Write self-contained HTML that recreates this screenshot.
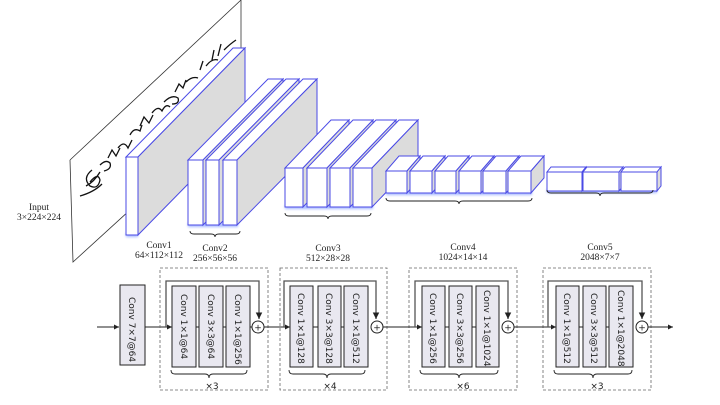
<!DOCTYPE html>
<html><head><meta charset="utf-8"><style>
html,body{margin:0;padding:0;background:#fff;}
svg{display:block;}
.lbl{font-family:"Liberation Serif",serif;font-size:9.5px;fill:#222;text-anchor:middle;}
.bt{font-family:"DejaVu Sans",sans-serif;font-size:9px;fill:#222;}
.f{fill:#fff;stroke:#4a4ae6;stroke-width:1;}
.s{fill:#dcdcdc;stroke:#4a4ae6;stroke-width:1;}
.cb{fill:#e9e8f0;stroke:#222;stroke-width:1;}
.dash{fill:none;stroke:#666;stroke-width:0.8;stroke-dasharray:3,2;}
.br{fill:none;stroke:#222;stroke-width:0.9;}
</style></head><body>
<svg width="720" height="405" viewBox="0 0 720 405" xmlns="http://www.w3.org/2000/svg">
<defs>
<marker id="ar" markerWidth="6" markerHeight="6" refX="5" refY="3" orient="auto"><path d="M0,0.5 L5,3 L0,5.5z" fill="#222"/></marker>
<filter id="gl"><feGaussianBlur stdDeviation="1.2"/></filter>
</defs>
<!-- input plane -->
<polygon points="70,160 241,0 241,60 73,262" fill="#fff" stroke="none"/>
<path d="M70,160 L241,0 L241,60 M70,160 L73,262 L130,210" fill="none" stroke="#333" stroke-width="0.8"/>
<path d="M92,170 q-10,8 -2,16 q8,4 10,-6 q-2,-8 -10,2 M86,186 q8,-4 14,-14 M80,196 q14,-4 22,-12 M100,165 q6,-6 10,-2 q2,6 -6,8 M108,158 l4,-8 l4,6 l4,-8 M118,148 q6,-8 10,0 l4,-8 M130,135 q4,-8 10,-4 l2,-6 M140,126 l4,-9 l5,6 l4,-8 M152,113 q6,-8 10,-2 q4,-8 8,-4 M164,102 q8,-8 14,-4 q2,6 -6,6 M175,92 l4,-8 l4,4 l3,-8 M186,82 q6,-6 12,-4 M200,70 l3,-9 M206,66 q6,-8 12,-6 M212,60 l2,-10 M218,56 l3,-12 M224,50 q6,-6 12,-10" fill="none" stroke="#111" stroke-width="1.3"/>
<text class="lbl" x="39" y="210">Input</text>
<text class="lbl" x="39" y="220">3×224×224</text>
<!-- glows -->
<g filter="url(#gl)" opacity="0.6"><rect x="126" y="233" width="12" height="4" fill="#6a8aff"/><rect x="188" y="223" width="50" height="4" fill="#6a8aff"/><rect x="285" y="205" width="88" height="4" fill="#6a8aff"/><rect x="386" y="191" width="146" height="4" fill="#6a8aff"/><rect x="547" y="189" width="110" height="4" fill="#6a8aff"/></g>
<!-- conv1 -->
<polygon class="f" points="126,157 138,157 245,48 233,48"/>
<polygon class="s" points="138,157 245,48 245,126 138,235"/>
<rect class="f" x="126" y="157" width="12" height="78"/>
<!-- conv2 -->
<polygon class="f" points="188,160 203,160 283,79 268,79"/><polygon class="s" points="203,160 283,79 283,144 203,225"/><rect class="f" x="188" y="160" width="15" height="65"/>
<polygon class="f" points="206,160 219,160 299,79 286,79"/><polygon class="s" points="219,160 299,79 299,144 219,225"/><rect class="f" x="206" y="160" width="13" height="65"/>
<polygon class="f" points="223,160 237,160 317,79 303,79"/><polygon class="s" points="237,160 317,79 317,144 237,225"/><rect class="f" x="223" y="160" width="14" height="65"/>
<!-- conv3 -->
<polygon class="f" points="285,168 303,168 349,120 331,120"/><polygon class="s" points="303,168 349,120 349,159 303,207"/><rect class="f" x="285" y="168" width="18" height="39"/>
<polygon class="f" points="307,168 327,168 373,120 353,120"/><polygon class="s" points="327,168 373,120 373,159 327,207"/><rect class="f" x="307" y="168" width="20" height="39"/>
<polygon class="f" points="330,168 350,168 396,120 376,120"/><polygon class="s" points="350,168 396,120 396,159 350,207"/><rect class="f" x="330" y="168" width="20" height="39"/>
<polygon class="f" points="353,168 372,168 418,120 399,120"/><polygon class="s" points="372,168 418,120 418,159 372,207"/><rect class="f" x="353" y="168" width="19" height="39"/>
<!-- conv4 -->
<polygon class="f" points="386,171 407,171 420,156 399,156"/><polygon class="s" points="407,171 420,156 420,178 407,193"/><rect class="f" x="386" y="171" width="21" height="22"/>
<polygon class="f" points="410,171 432,171 445,156 423,156"/><polygon class="s" points="432,171 445,156 445,178 432,193"/><rect class="f" x="410" y="171" width="22" height="22"/>
<polygon class="f" points="435,171 456,171 469,156 448,156"/><polygon class="s" points="456,171 469,156 469,178 456,193"/><rect class="f" x="435" y="171" width="21" height="22"/>
<polygon class="f" points="459,171 481,171 494,156 472,156"/><polygon class="s" points="481,171 494,156 494,178 481,193"/><rect class="f" x="459" y="171" width="22" height="22"/>
<polygon class="f" points="483,171 506,171 519,156 496,156"/><polygon class="s" points="506,171 519,156 519,178 506,193"/><rect class="f" x="483" y="171" width="23" height="22"/>
<polygon class="f" points="508,171 531,171 544,156 521,156"/><polygon class="s" points="531,171 544,156 544,178 531,193"/><rect class="f" x="508" y="171" width="23" height="22"/>
<!-- conv5 -->
<polygon class="f" points="547,172 582,172 586,167 551,167"/><polygon class="s" points="582,172 586,167 586,186 582,191"/><rect class="f" x="547" y="172" width="35" height="19"/>
<polygon class="f" points="583,172 619,172 623,167 587,167"/><polygon class="s" points="619,172 623,167 623,186 619,191"/><rect class="f" x="583" y="172" width="36" height="19"/>
<polygon class="f" points="621,172 657,172 661,167 625,167"/><polygon class="s" points="657,172 661,167 661,186 657,191"/><rect class="f" x="621" y="172" width="36" height="19"/>
<!-- braces -->
<path class="br" d="M190,231 q0,3 4,3 h17 q4,0 4,3 q0,-3 4,-3 h17 q4,0 4,-3"/>
<path class="br" d="M285,213 q0,3 4,3 h35 q4,0 4,3 q0,-3 4,-3 h35 q4,0 4,-3"/>
<path class="br" d="M386,198 q0,3 4,3 h65 q4,0 4,3 q0,-3 4,-3 h65 q4,0 4,-3"/>
<path class="br" d="M547,190 q0,3 4,3 h45 q4,0 4,3 q0,-3 4,-3 h45 q4,0 4,-3"/>
<!-- labels -->
<text class="lbl" x="159" y="248">Conv1</text><text class="lbl" x="159" y="258">64×112×112</text>
<text class="lbl" x="215" y="251">Conv2</text><text class="lbl" x="215" y="261">256×56×56</text>
<text class="lbl" x="328" y="251">Conv3</text><text class="lbl" x="328" y="261">512×28×28</text>
<text class="lbl" x="463" y="250">Conv4</text><text class="lbl" x="463" y="260">1024×14×14</text>
<text class="lbl" x="600" y="250">Conv5</text><text class="lbl" x="600" y="260">2048×7×7</text>
<!-- bottom pipeline -->
<line x1="97" y1="327" x2="119" y2="327" stroke="#222" marker-end="url(#ar)"/>
<rect class="cb" x="120" y="285" width="25" height="80"/>
<text class="bt" transform="translate(129,297) rotate(90)">Conv 7×7@64</text>
<line x1="145" y1="327" x2="172" y2="327" stroke="#222" marker-end="url(#ar)"/>
<rect class="dash" x="160" y="268" width="108" height="122"/>
<rect class="dash" x="280" y="268" width="107" height="122"/>
<rect class="dash" x="409" y="268" width="108" height="122"/>
<rect class="dash" x="543" y="268" width="108" height="122"/>
<!-- stage 1 -->
<path d="M166,327 V281 H259 V319" fill="none" stroke="#555" stroke-width="1.3" marker-end="url(#ar)"/>
<rect class="cb" x="172" y="286" width="24" height="81"/><rect class="cb" x="199" y="286" width="24" height="81"/><rect class="cb" x="226" y="286" width="24" height="81"/>
<line x1="196" y1="327" x2="199" y2="327" stroke="#222"/><line x1="223" y1="327" x2="226" y2="327" stroke="#222"/><line x1="250" y1="327" x2="252" y2="327" stroke="#222"/>
<text class="bt" transform="translate(181,294) rotate(90)">Conv 1×1@64</text>
<text class="bt" transform="translate(208,294) rotate(90)">Conv 3×3@64</text>
<text class="bt" transform="translate(235,294) rotate(90)">Conv 1×1@256</text>
<circle cx="258" cy="327" r="6" fill="#fff" stroke="#222"/><text class="bt" x="258" y="330.5" text-anchor="middle">+</text>
<path class="br" d="M171,370 q0,4 4,4 h30 q4,0 4,4 q0,-4 4,-4 h30 q4,0 4,-4"/><text class="bt" x="212" y="389" text-anchor="middle">×3</text>
<line x1="264" y1="327" x2="290" y2="327" stroke="#222" marker-end="url(#ar)"/>
<!-- stage 2 -->
<path d="M284,327 V281 H376 V319" fill="none" stroke="#555" stroke-width="1.3" marker-end="url(#ar)"/>
<rect class="cb" x="290" y="286" width="23" height="81"/><rect class="cb" x="318" y="286" width="23" height="81"/><rect class="cb" x="344" y="286" width="24" height="81"/>
<line x1="313" y1="327" x2="318" y2="327" stroke="#222"/><line x1="341" y1="327" x2="344" y2="327" stroke="#222"/>
<text class="bt" transform="translate(298,293) rotate(90)">Conv 1×1@128</text>
<text class="bt" transform="translate(326,293) rotate(90)">Conv 3×3@128</text>
<text class="bt" transform="translate(353,293) rotate(90)">Conv 1×1@512</text>
<circle cx="377" cy="327" r="6" fill="#fff" stroke="#222"/><text class="bt" x="377" y="330.5" text-anchor="middle">+</text>
<path class="br" d="M289,370 q0,4 4,4 h30 q4,0 4,4 q0,-4 4,-4 h30 q4,0 4,-4"/><text class="bt" x="330" y="389" text-anchor="middle">×4</text>
<line x1="383" y1="327" x2="422" y2="327" stroke="#222" marker-end="url(#ar)"/>
<!-- stage 3 -->
<path d="M415,327 V281 H508 V319" fill="none" stroke="#555" stroke-width="1.3" marker-end="url(#ar)"/>
<rect class="cb" x="422" y="286" width="23" height="81"/><rect class="cb" x="449" y="286" width="23" height="81"/><rect class="cb" x="476" y="286" width="23" height="81"/>
<line x1="445" y1="327" x2="449" y2="327" stroke="#222"/><line x1="472" y1="327" x2="476" y2="327" stroke="#222"/>
<text class="bt" transform="translate(430,293) rotate(90)">Conv 1×1@256</text>
<text class="bt" transform="translate(457,293) rotate(90)">Conv 3×3@256</text>
<text class="bt" transform="translate(484,290) rotate(90)">Conv 1×1@1024</text>
<circle cx="508" cy="327" r="6" fill="#fff" stroke="#222"/><text class="bt" x="508" y="330.5" text-anchor="middle">+</text>
<path class="br" d="M420,370 q0,4 4,4 h31 q4,0 4,4 q0,-4 4,-4 h31 q4,0 4,-4"/><text class="bt" x="463" y="389" text-anchor="middle">×6</text>
<line x1="514" y1="327" x2="556" y2="327" stroke="#222" marker-end="url(#ar)"/>
<!-- stage 4 -->
<path d="M548,327 V281 H642 V319" fill="none" stroke="#555" stroke-width="1.3" marker-end="url(#ar)"/>
<rect class="cb" x="556" y="286" width="23" height="81"/><rect class="cb" x="583" y="286" width="23" height="81"/><rect class="cb" x="609" y="286" width="24" height="81"/>
<line x1="579" y1="327" x2="583" y2="327" stroke="#222"/><line x1="606" y1="327" x2="609" y2="327" stroke="#222"/>
<text class="bt" transform="translate(564,293) rotate(90)">Conv 1×1@512</text>
<text class="bt" transform="translate(591,293) rotate(90)">Conv 3×3@512</text>
<text class="bt" transform="translate(618,290) rotate(90)">Conv 1×1@2048</text>
<circle cx="642" cy="327" r="6" fill="#fff" stroke="#222"/><text class="bt" x="642" y="330.5" text-anchor="middle">+</text>
<path class="br" d="M554,370 q0,4 4,4 h31 q4,0 4,4 q0,-4 4,-4 h31 q4,0 4,-4"/><text class="bt" x="597" y="389" text-anchor="middle">×3</text>
<line x1="648" y1="327" x2="673" y2="327" stroke="#222" marker-end="url(#ar)"/>
</svg>
</body></html>
